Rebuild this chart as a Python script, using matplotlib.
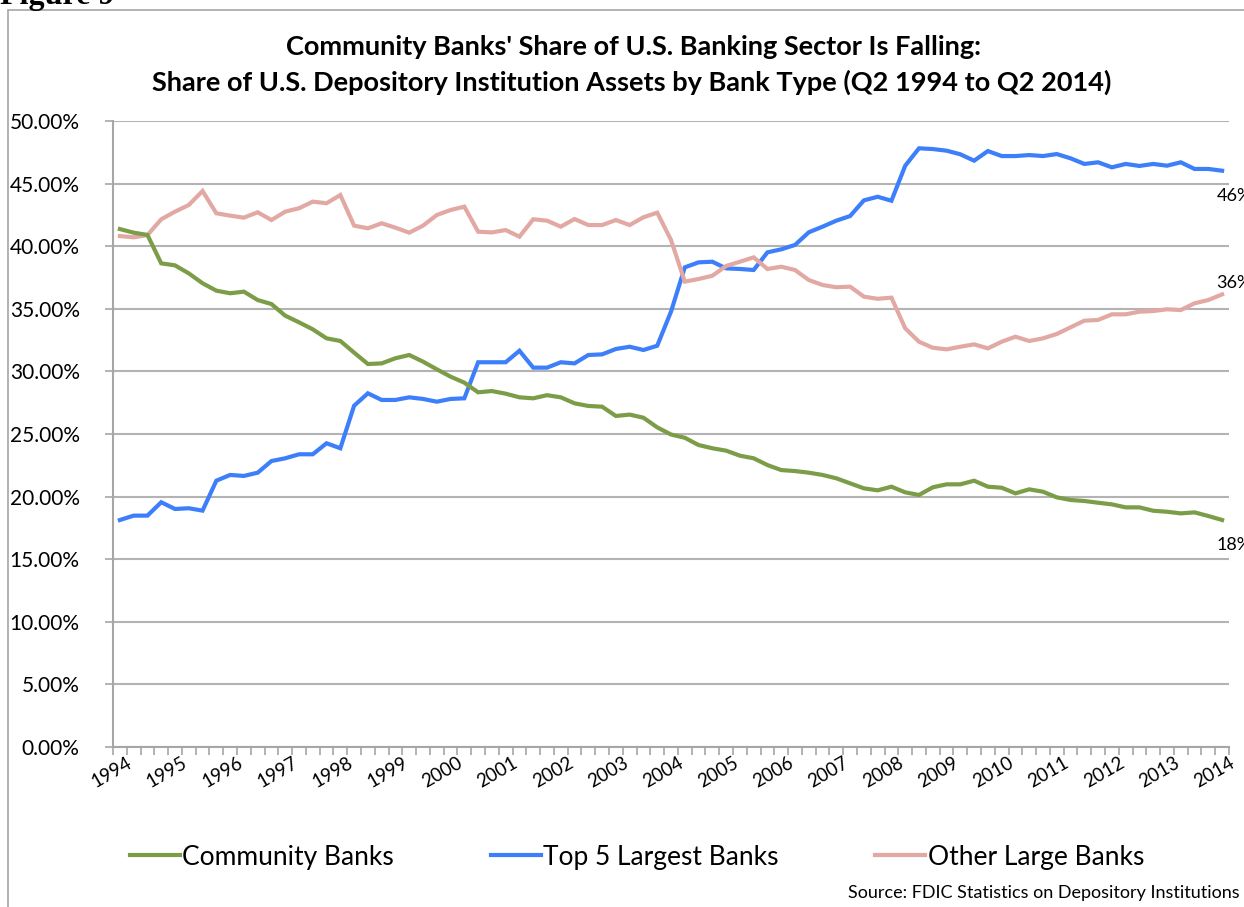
import numpy as np
import matplotlib
matplotlib.use('Agg')
import matplotlib.pyplot as plt
from matplotlib.patches import Rectangle
from matplotlib.ticker import FuncFormatter, FixedLocator
from matplotlib.transforms import offset_copy

# Quarterly shares (%), Q2 1994 .. Q2 2014
community = [41.37, 41.08, 40.90, 38.63, 38.47, 37.83, 37.04, 36.45, 36.24, 36.37,
             35.70, 35.38, 34.45, 33.92, 33.36, 32.64, 32.43, 31.50, 30.59, 30.64,
             31.05, 31.31, 30.78, 30.17, 29.58, 29.10, 28.33, 28.43, 28.22, 27.93,
             27.85, 28.10, 27.93, 27.45, 27.24, 27.18, 26.44, 26.55, 26.30, 25.53,
             24.96, 24.70, 24.12, 23.86, 23.67, 23.27, 23.06, 22.52, 22.12, 22.04,
             21.91, 21.73, 21.46, 21.06, 20.66, 20.50, 20.79, 20.34, 20.13, 20.74,
             20.98, 20.98, 21.27, 20.79, 20.71, 20.26, 20.58, 20.39, 19.94, 19.73,
             19.65, 19.51, 19.38, 19.14, 19.14, 18.87, 18.79, 18.66, 18.74, 18.45,
             18.13]
top5 = [18.13, 18.48, 18.48, 19.55, 19.01, 19.07, 18.88, 21.27, 21.73, 21.65,
        21.91, 22.84, 23.06, 23.38, 23.38, 24.26, 23.86, 27.26, 28.25, 27.72,
        27.72, 27.93, 27.80, 27.58, 27.80, 27.85, 30.73, 30.73, 30.73, 31.65,
        30.30, 30.30, 30.73, 30.64, 31.31, 31.36, 31.79, 31.97, 31.71, 32.05,
        34.77, 38.31, 38.71, 38.76, 38.23, 38.18, 38.10, 39.51, 39.75, 40.10,
        41.11, 41.56, 42.04, 42.41, 43.66, 43.95, 43.63, 46.43, 47.82, 47.76,
        47.63, 47.34, 46.83, 47.60, 47.20, 47.20, 47.28, 47.20, 47.36, 47.02,
        46.57, 46.70, 46.30, 46.57, 46.41, 46.57, 46.43, 46.70, 46.17, 46.17,
        46.03]
other_large = [40.81, 40.71, 40.89, 42.15, 42.76, 43.29, 44.41, 42.63, 42.44, 42.28,
               42.71, 42.09, 42.76, 43.03, 43.56, 43.43, 44.09, 41.64, 41.43, 41.83,
               41.48, 41.08, 41.64, 42.49, 42.89, 43.16, 41.16, 41.10, 41.29, 40.76,
               42.15, 42.04, 41.56, 42.17, 41.69, 41.69, 42.09, 41.69, 42.31, 42.68,
               40.50, 37.17, 37.38, 37.64, 38.42, 38.76, 39.11, 38.18, 38.36, 38.10,
               37.30, 36.90, 36.72, 36.77, 35.97, 35.80, 35.89, 33.44, 32.37, 31.89,
               31.76, 31.97, 32.16, 31.84, 32.37, 32.77, 32.43, 32.64, 32.99, 33.52,
               34.05, 34.11, 34.56, 34.56, 34.77, 34.82, 34.96, 34.90, 35.44, 35.70,
               36.15]
years = [str(y) for y in range(1994, 2015)]
end_labels = ['18%', '46%', '36%']

plt.rcParams['font.family'] = ['Lato', 'DejaVu Sans']

fig = plt.figure(figsize=(12.44, 9.07), dpi=100)
fig.patch.set_facecolor('white')

# outer chart frame (cropped at right/bottom)
fig.patches.append(Rectangle((8 / 1244, -0.05), 1.2, 1.05 - 10 / 907,
                             transform=fig.transFigure, fill=False,
                             edgecolor='#a6a6a6', linewidth=1.2))
fig.text(0.0, 1 - 4 / 907, 'Figure 9', family='Liberation Serif', weight='bold',
         fontsize=23, va='baseline', ha='left')

ax = fig.add_axes([113 / 1244, 1 - 747 / 907, (1229 - 113) / 1244, (747 - 121) / 907])
x = np.arange(len(community))

green, blue, pink = '#7c9d48', '#3d7ffa', '#e2a9a4'
ax.plot(x, top5, color=blue, lw=3, label='Top 5 Largest Banks', solid_joinstyle='miter')
ax.plot(x, other_large, color=pink, lw=3, label='Other Large Banks', solid_joinstyle='miter')
ax.plot(x, community, color=green, lw=3, label='Community Banks', solid_joinstyle='miter')

ax.set_xlim(-0.5, len(x) - 0.5)
ax.set_ylim(0, 50)
ax.set_yticks(np.arange(0, 50.1, 5))
ax.yaxis.set_major_formatter(FuncFormatter(lambda v, p: f'{v:.2f}%'))
ax.grid(axis='y', color='#b3b3b3', linewidth=1.5)
ax.set_axisbelow(True)
for s in ['top', 'right']:
    ax.spines[s].set_visible(False)
for s in ['left', 'bottom']:
    ax.spines[s].set_color('#a6a6a6')
    ax.spines[s].set_linewidth(1.5)
ax.tick_params(axis='y', length=6, width=1.2, color='#a6a6a6', labelsize=15, pad=18)

ax.set_xticks(x[::4])
ax.set_xticklabels(years, rotation=30, ha='center', fontsize=13.5)
ax.xaxis.set_minor_locator(FixedLocator(np.arange(-0.5, len(x), 1)))
ax.tick_params(axis='x', which='major', length=0, pad=5)
ax.tick_params(axis='x', which='minor', length=6, width=1.2, color='#a6a6a6')
for lab in ax.get_xticklabels():
    lab.set_transform(offset_copy(lab.get_transform(), fig=fig, x=-8, y=0, units='dots'))

# end-of-series labels
last = len(x) - 1
ax.annotate(end_labels[0], (last, community[-1]), xytext=(-4, -18), textcoords='offset points',
            fontsize=13, ha='left', va='center', annotation_clip=False)
ax.annotate(end_labels[1], (last, top5[-1]), xytext=(-4, -18), textcoords='offset points',
            fontsize=13, ha='left', va='center', annotation_clip=False)
ax.annotate(end_labels[2], (last, other_large[-1]), xytext=(-4, 8), textcoords='offset points',
            fontsize=13, ha='left', va='center', annotation_clip=False)

fig.text(634 / 1244, 1 - 47 / 907, "Community Banks' Share of U.S. Banking Sector Is Falling:",
         ha='center', va='center', fontsize=19.5, weight='bold')
fig.text(632 / 1244, 1 - 82 / 907,
         "Share of U.S. Depository Institution Assets by Bank Type (Q2 1994 to Q2 2014)",
         ha='center', va='center', fontsize=19.5, weight='bold')

h, l = ax.get_legend_handles_labels()
order = [2, 0, 1]
fig.legend([h[i] for i in order], [l[i] for i in order], loc='center',
           bbox_to_anchor=(637 / 1244, 1 - 857 / 907), ncol=3, frameon=False,
           fontsize=19, handlelength=1.9, handletextpad=0.1, columnspacing=3.65)

fig.text(1240 / 1244, 1 - 893 / 907, 'Source: FDIC Statistics on Depository Institutions',
         ha='right', va='center', fontsize=13)

fig.savefig('out.png', dpi=100)
